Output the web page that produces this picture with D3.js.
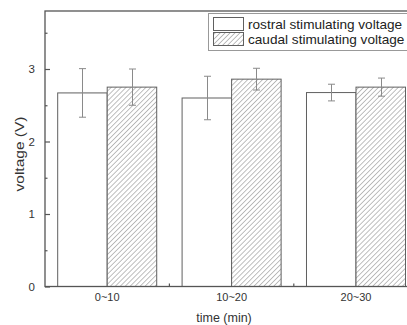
<!DOCTYPE html>
<html><head><meta charset="utf-8">
<script src="https://cdn.jsdelivr.net/npm/d3@7"></script>
<style>body{margin:0;background:#fff}svg{display:block}</style>
</head><body>
<script>
const categories = ["0~10", "10~20", "20~30"];
const seriesNames = ["rostral stimulating voltage", "caudal stimulating voltage"];
const rostral = [2.67, 2.60, 2.675];
const rostralErr = [0.335, 0.30, 0.115];
const caudal = [2.75, 2.86, 2.75];
const caudalErr = [0.25, 0.15, 0.125];
const yTicks = [0, 1, 2, 3];
const yMinor = [0.5, 1.5, 2.5, 3.5];

const W = 407, H = 325;
const L = 45, T = 11, B = 286.5, R = 418.2;
const FONT = "Liberation Sans, Arial, sans-serif";
const svg = d3.select("body").append("svg").attr("width", W).attr("height", H);

const defs = svg.append("defs");
const pat = defs.append("pattern").attr("id", "hatch").attr("patternUnits", "userSpaceOnUse")
  .attr("width", 3.5).attr("height", 3.5).attr("patternTransform", "rotate(45)");
pat.append("rect").attr("width", 3.5).attr("height", 3.5).attr("fill", "#fff");
pat.append("line").attr("x1", 0).attr("y1", 0).attr("x2", 0).attr("y2", 3.5)
  .attr("stroke", "#707070").attr("stroke-width", 0.9);

const x0 = d3.scaleBand().domain(categories).range([L, R]).paddingInner(0.204).paddingOuter(0.102);
const x1 = d3.scaleBand().domain([0, 1]).range([0, x0.bandwidth()]);
const y = d3.scaleLinear().domain([0, 3.8]).range([B, T]);

const series = [
  {vals: rostral, err: rostralErr, fill: "#fff"},
  {vals: caudal, err: caudalErr, fill: "url(#hatch)"}
];

const axisCol = "#555";
const textCol = "#333";

// bars
series.forEach((s, si) => {
  svg.append("g").selectAll("rect").data(categories).join("rect")
    .attr("x", c => x0(c) + x1(si))
    .attr("y", (c, i) => y(s.vals[i]))
    .attr("width", x1.bandwidth())
    .attr("height", (c, i) => y(0) - y(s.vals[i]))
    .attr("fill", s.fill)
    .attr("stroke", "#606060").attr("stroke-width", 1);
});

// error bars
series.forEach((s, si) => {
  const g = svg.append("g").attr("stroke", "#8a8a8a").attr("stroke-width", 1).attr("fill", "none");
  categories.forEach((c, i) => {
    const cx = Math.round(x0(c) + x1(si) + x1.bandwidth() / 2) + 0.5;
    const yt = y(s.vals[i] + s.err[i]), yb = y(s.vals[i] - s.err[i]);
    g.append("line").attr("x1", cx).attr("x2", cx).attr("y1", yt).attr("y2", yb);
    g.append("line").attr("x1", cx - 3.5).attr("x2", cx + 3.5).attr("y1", yt).attr("y2", yt);
    g.append("line").attr("x1", cx - 3.5).attr("x2", cx + 3.5).attr("y1", yb).attr("y2", yb);
  });
});

// frame
svg.append("rect").attr("x", L).attr("y", T).attr("width", R - L).attr("height", B - T)
  .attr("fill", "none").attr("stroke", axisCol).attr("stroke-width", 1.3);

// y axis
const yAxis = svg.append("g").attr("transform", `translate(${L},0)`)
  .call(d3.axisLeft(y).tickValues(yTicks).tickFormat(d3.format("d")).tickSizeInner(-5).tickSizeOuter(0).tickPadding(10));
yAxis.select(".domain").remove();
yAxis.selectAll("line").attr("stroke", axisCol).attr("stroke-width", 1.2);
yAxis.selectAll("text").attr("fill", textCol).style("font-family", FONT).style("font-size", "11.5px");
const yAxisMinor = svg.append("g").attr("transform", `translate(${L},0)`)
  .call(d3.axisLeft(y).tickValues(yMinor).tickFormat("").tickSizeInner(-2.5).tickSizeOuter(0));
yAxisMinor.select(".domain").remove();
yAxisMinor.selectAll("line").attr("stroke", axisCol).attr("stroke-width", 1.2);

// x axis
const xAxis = svg.append("g").attr("transform", `translate(0,${B})`)
  .call(d3.axisBottom(x0).tickSize(0).tickPadding(7));
xAxis.select(".domain").remove();
xAxis.selectAll("text").attr("fill", textCol).style("font-family", FONT).style("font-size", "11px");
// minor ticks between groups
const mids = categories.slice(1).map(c => x0(c) - x0.step() * x0.paddingInner() / 2);
svg.append("g").selectAll("line").data(mids).join("line")
  .attr("x1", d => d).attr("x2", d => d).attr("y1", B).attr("y2", B - 3)
  .attr("stroke", axisCol).attr("stroke-width", 1.2);

// axis titles
svg.append("text").attr("x", 224).attr("y", 322).attr("text-anchor", "middle")
  .attr("fill", textCol).style("font-family", FONT).style("font-size", "12.5px")
  .text("time (min)");
svg.append("text").attr("transform", `translate(24,154) rotate(-90) scale(1,0.85)`).attr("text-anchor", "middle")
  .attr("fill", textCol).style("font-family", FONT).style("font-size", "15.5px")
  .text("voltage (V)");

// legend
const lg = svg.append("g");
lg.append("rect").attr("x", 208.5).attr("y", 13.5).attr("width", 220).attr("height", 37)
  .attr("fill", "#fff").attr("stroke", "#999").attr("stroke-width", 1);
seriesNames.forEach((n, i) => {
  const yy = 17.5 + i * 15;
  lg.append("rect").attr("x", 213.5).attr("y", yy).attr("width", 30).attr("height", 13)
    .attr("fill", series[i].fill).attr("stroke", "#606060").attr("stroke-width", 1);
  lg.append("text").attr("x", 248).attr("y", yy + 11).attr("fill", "#222")
    .style("font-family", FONT).style("font-size", "13.6px").text(n);
});
</script>
</body></html>
